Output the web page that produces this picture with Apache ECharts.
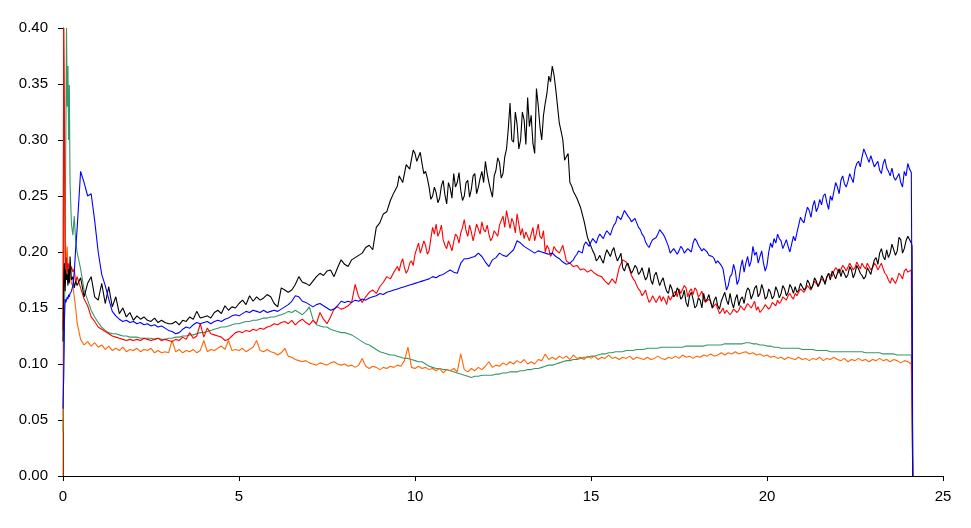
<!DOCTYPE html>
<html>
<head>
<meta charset="utf-8">
<script src="https://cdn.jsdelivr.net/npm/echarts@6/dist/echarts.min.js"></script>
<style>
  html, body { margin: 0; padding: 0; background: #ffffff; }
  #chart { width: 971px; height: 528px; }
</style>
</head>
<body>
<div id="chart"></div>
<script>
// Sample positions along x: fine steps at the start, 0.1 steps in the body, end drop
const xStart = [0, 0.02, 0.04, 0.06, 0.08, 0.10, 0.12, 0.14, 0.16, 0.18, 0.20, 0.24, 0.28, 0.32, 0.36];
const xBodyFirst = 0.4, xBodyStep = 0.1, xBodyCount = 238;
const xEnd = [24.12, 24.14];

const xTicks = [0, 5, 10, 15, 20, 25];
const yTicks = [0, 0.05, 0.10, 0.15, 0.20, 0.25, 0.30, 0.35, 0.40];

const blackValues = [
  0.12,0.17,0.19,0.165,0.185,0.175,0.18,0.17,0.185,0.172,0.196,0.175,0.178,0.168,0.174,
  0.170,0.177,0.160,0.172,0.178,0.160,
  0.157,0.172,0.154,0.169,0.151,0.160,0.145,0.150,0.142,0.146,
  0.139,0.143,0.140,0.142,0.139,0.138,0.141,0.137,0.139,0.137,
  0.136,0.136,0.138,0.135,0.139,0.138,0.142,0.140,0.147,0.141,
  0.142,0.143,0.141,0.146,0.148,0.145,0.152,0.148,0.151,0.150,
  0.154,0.157,0.153,0.161,0.156,0.160,0.157,0.159,0.162,0.160,
  0.154,0.151,0.168,0.166,0.164,0.166,0.171,0.178,0.173,0.172,
  0.170,0.174,0.178,0.181,0.179,0.183,0.184,0.178,0.186,0.193,
  0.189,0.187,0.193,0.195,0.197,0.199,0.204,0.206,0.202,0.222,
  0.226,0.234,0.236,0.246,0.253,0.259,0.267,0.270,0.277,0.283,
  0.288,0.285,0.279,0.272,0.258,0.250,0.253,0.248,0.264,0.243,
  0.257,0.270,0.262,0.255,0.250,0.264,0.256,0.270,0.258,0.272,
  0.281,0.262,0.249,0.273,0.280,0.270,0.292,0.333,0.298,0.314,
  0.300,0.318,0.338,0.322,0.288,0.331,0.300,0.333,0.357,0.366,
  0.345,0.315,0.300,0.285,0.262,0.254,0.248,0.240,0.228,0.213,
  0.205,0.198,0.194,0.193,0.197,0.199,0.201,0.197,0.195,0.186,
  0.188,0.185,0.184,0.186,0.182,0.180,0.178,0.175,0.179,0.176,
  0.174,0.170,0.163,0.167,0.162,0.165,0.160,0.155,0.161,0.158,
  0.152,0.157,0.163,0.158,0.155,0.157,0.152,0.156,0.164,0.153,
  0.155,0.158,0.152,0.160,0.163,0.166,0.162,0.170,0.163,0.166,
  0.160,0.164,0.161,0.165,0.163,0.167,0.164,0.168,0.169,0.166,
  0.171,0.168,0.172,0.170,0.174,0.172,0.176,0.178,0.175,0.180,
  0.181,0.178,0.183,0.180,0.184,0.181,0.185,0.179,0.178,0.183,
  0.187,0.195,0.199,0.196,0.202,0.199,0.206,0.201,0.211,0.203,
  0.214,0.208,
  0.205,0
];
// extra in-between readings (x = first, first+0.1, ...)
const blackDetailAFirst = 9.55;
const blackDetailAValues = [
  0.268,0.262,0.278,0.274,0.291,0.281,0.289,0.270,0.266,0.247,
  0.258,0.244,0.259,0.251,0.262,0.248,0.258,0.271,0.246,0.262,
  0.249,0.268,0.252,0.266,0.262,0.270,0.255,0.268,0.284,0.266,
  0.285,0.310,0.300,0.325,0.292,0.325,0.296,0.312,0.297,0.346,
  0.312,0.322,0.342,0.352,0.358,0.330,0.308,0.282,0.288,0.259
];
const blackDetailBFirst = 15.05;
const blackDetailBValues = [
  0.201,0.192,0.197,0.190,0.202,0.196,0.204,0.192,0.199,0.183,
  0.190,0.181,0.188,0.180,0.186,0.175,0.186,0.171,0.182,0.170,
  0.177,0.165,0.171,0.160,0.168,0.158,0.166,0.151,0.164,0.150,
  0.159,0.150,0.156,0.162,0.150,0.160,0.149,0.160,0.157,0.163,
  0.150,0.162,0.158,0.154,0.168,0.158,0.168,0.160,0.171,0.158,
  0.167,0.158,0.169,0.159,0.170,0.161,0.171,0.163,0.164,0.172,
  0.166,0.175,0.167,0.177,0.169,0.179,0.171,0.181,0.183,0.176,
  0.185,0.184,0.177,0.187,0.177,0.188,0.181,0.176,0.186,0.180,
  0.193,0.189,0.203,0.193,0.195,0.207,0.197,0.213,0.199,0.210
];

const blueValues = [
  0.06,0.09,0.14,0.158,0.155,0.157,0.160,0.158,0.162,0.160,0.163,0.165,0.170,0.182,0.203,
  0.220,0.272,0.262,0.250,0.252,0.228,
  0.200,0.180,0.170,0.158,0.147,0.143,0.140,0.138,0.139,0.137,
  0.138,0.136,0.137,0.135,0.136,0.134,0.135,0.133,0.134,0.132,
  0.130,0.129,0.127,0.128,0.131,0.133,0.132,0.135,0.137,0.136,
  0.137,0.138,0.136,0.138,0.139,0.138,0.140,0.141,0.143,0.144,
  0.143,0.145,0.147,0.146,0.148,0.147,0.146,0.148,0.146,0.147,
  0.148,0.147,0.149,0.151,0.153,0.156,0.161,0.160,0.156,0.155,
  0.153,0.151,0.153,0.154,0.152,0.150,0.148,0.149,0.152,0.156,
  0.155,0.156,0.155,0.157,0.156,0.158,0.157,0.159,0.160,0.161,
  0.163,0.162,0.164,0.165,0.166,0.167,0.168,0.169,0.170,0.171,
  0.172,0.173,0.174,0.175,0.176,0.178,0.177,0.179,0.180,0.182,
  0.184,0.182,0.181,0.190,0.194,0.194,0.195,0.196,0.199,0.196,
  0.191,0.187,0.193,0.195,0.199,0.197,0.196,0.199,0.202,0.210,
  0.208,0.205,0.203,0.201,0.199,0.201,0.200,0.199,0.198,0.199,
  0.196,0.194,0.191,0.189,0.190,0.193,0.198,0.202,0.206,0.208,
  0.209,0.210,0.213,0.215,0.216,0.218,0.220,0.226,0.231,0.233,
  0.236,0.230,0.228,0.226,0.220,0.214,0.206,0.208,0.211,0.216,
  0.219,0.213,0.205,0.200,0.203,0.201,0.203,0.200,0.204,0.208,
  0.210,0.205,0.203,0.200,0.198,0.194,0.192,0.188,0.185,0.170,
  0.180,0.183,0.175,0.193,0.190,0.187,0.205,0.200,0.196,0.190,
  0.188,0.208,0.212,0.216,0.210,0.207,0.205,0.207,0.210,0.224,
  0.228,0.234,0.237,0.241,0.236,0.247,0.250,0.244,0.250,0.254,
  0.258,0.264,0.261,0.263,0.266,0.274,0.281,0.285,0.291,0.280,
  0.281,0.276,0.273,0.279,0.275,0.268,0.267,0.264,0.262,0.272,
  0.279,0.271,
  0.137,0
];
const blueDetailAFirst = 14.55;
const blueDetailAValues = [
  0.196,0.201,0.199,0.209,0.205,0.212,0.208,0.216,0.212,0.219,
  0.215,0.224,0.232,0.229,0.237,0.232,0.227,0.230,0.222,0.216,
  0.209,0.204,0.211,0.213,0.220,0.216,0.209,0.199,0.203,0.198,
  0.205,0.199,0.203,0.200,0.212,0.206,0.201,0.204,0.197,0.196,
  0.190,0.193,0.185,0.166,0.178
];
const blueDetailBFirst = 19.05;
const blueDetailBValues = [
  0.189,0.171,0.186,0.182,0.196,0.192,0.197,0.190,0.201,0.183,
  0.200,0.204,0.208,0.212,0.203,0.211,0.200,0.214,0.217,0.231,
  0.226,0.240,0.231,0.246,0.240,0.242,0.252,0.238,0.246,0.262,
  0.252,0.268,0.258,0.270,0.262,0.279,0.276,0.292,0.284,0.286,
  0.276,0.281,0.270,0.283,0.272,0.275,0.264,0.270,0.258,0.268,
  0.274
];

const redValues = [
  0.13,0.40,0.32,0.20,0.185,0.195,0.18,0.19,0.188,0.186,0.18,0.187,0.182,0.185,0.172,
  0.178,0.168,0.158,0.152,0.142,0.138,
  0.133,0.131,0.129,0.127,0.125,0.124,0.123,0.122,0.121,0.122,
  0.121,0.122,0.121,0.123,0.122,0.121,0.122,0.123,0.121,0.122,
  0.121,0.120,0.122,0.121,0.124,0.122,0.128,0.123,0.125,0.136,
  0.124,0.132,0.127,0.126,0.125,0.124,0.121,0.122,0.125,0.128,
  0.129,0.128,0.130,0.129,0.131,0.130,0.132,0.131,0.133,0.134,
  0.136,0.135,0.137,0.138,0.136,0.139,0.135,0.138,0.140,0.137,
  0.135,0.139,0.136,0.146,0.140,0.136,0.142,0.149,0.151,0.149,
  0.150,0.152,0.155,0.171,0.160,0.155,0.160,0.164,0.166,0.163,
  0.169,0.173,0.178,0.176,0.182,0.187,0.190,0.186,0.184,0.192,
  0.198,0.208,0.204,0.206,0.201,0.222,0.225,0.218,0.211,0.203,
  0.206,0.209,0.214,0.217,0.229,0.214,0.218,0.217,0.224,0.227,
  0.218,0.216,0.213,0.220,0.224,0.232,0.237,0.221,0.226,0.234,
  0.215,0.212,0.218,0.216,0.210,0.225,0.212,0.200,0.203,0.199,
  0.202,0.199,0.206,0.192,0.190,0.187,0.188,0.184,0.185,0.182,
  0.184,0.181,0.179,0.178,0.174,0.171,0.176,0.172,0.186,0.193,
  0.191,0.184,0.176,0.170,0.165,0.163,0.160,0.157,0.160,0.158,
  0.156,0.157,0.161,0.158,0.165,0.167,0.163,0.168,0.165,0.162,
  0.166,0.162,0.158,0.154,0.156,0.151,0.149,0.147,0.145,0.148,
  0.146,0.150,0.148,0.152,0.151,0.155,0.153,0.148,0.146,0.150,
  0.152,0.151,0.154,0.157,0.156,0.159,0.161,0.160,0.163,0.164,
  0.166,0.167,0.169,0.170,0.172,0.173,0.176,0.177,0.180,0.183,
  0.184,0.182,0.186,0.184,0.187,0.186,0.188,0.190,0.185,0.187,
  0.186,0.188,0.187,0.185,0.179,0.172,0.178,0.176,0.179,0.183,
  0.182,0.184,
  0.183,0
];
const redDetailAFirst = 9.55;
const redDetailAValues = [
  0.183,0.194,0.181,0.190,0.188,0.203,0.199,0.210,0.198,0.212,
  0.216,0.214,0.224,0.206,0.210,0.201,0.216,0.208,0.222,0.219,
  0.224,0.210,0.225,0.216,0.220,0.224,0.210,0.219,0.214,0.228,
  0.222,0.229,0.230,0.217,0.225,0.221,0.218,0.210,0.222,0.217,
  0.214,0.219,0.206,0.196,0.205
];
const redDetailBFirst = 16.05;
const redDetailBValues = [
  0.188,0.179,0.174,0.167,0.161,0.166,0.155,0.161,0.155,0.161,
  0.160,0.153,0.157,0.163,0.160,0.163,0.170,0.160,0.167,0.168,
  0.160,0.165,0.155,0.158,0.150,0.154,0.145,0.150,0.148,0.144,
  0.149,0.146,0.152,0.148,0.154,0.150,0.156,0.151,0.148,0.153,
  0.149,0.155,0.152,0.154,0.160,0.157,0.163,0.158,0.161,0.167,
  0.164,0.170,0.166,0.174,0.170,0.176,0.173,0.181,0.178,0.186,
  0.181,0.188,0.183,0.190,0.184,0.191,0.185,0.187,0.190,0.184,
  0.190,0.184,0.190,0.181,0.175,0.177,0.172,0.181,0.176,0.185
];

const greenValues = [
  0.04,0.10,0.13,0.20,0.30,0.40,0.33,0.366,0.30,0.349,0.262,0.225,0.215,0.232,0.21,
  0.200,0.185,0.166,0.157,0.148,0.142,
  0.137,0.133,0.130,0.128,0.127,0.127,0.126,0.125,0.125,0.124,
  0.124,0.124,0.123,0.123,0.123,0.123,0.122,0.123,0.122,0.122,
  0.123,0.123,0.124,0.124,0.125,0.125,0.126,0.126,0.127,0.128,
  0.128,0.129,0.130,0.131,0.132,0.133,0.133,0.134,0.135,0.136,
  0.136,0.137,0.138,0.138,0.139,0.139,0.140,0.141,0.141,0.142,
  0.142,0.143,0.144,0.145,0.147,0.146,0.148,0.146,0.144,0.147,
  0.151,0.140,0.135,0.134,0.133,0.133,0.131,0.130,0.129,0.128,
  0.128,0.127,0.126,0.124,0.122,0.120,0.118,0.117,0.115,0.113,
  0.111,0.110,0.109,0.108,0.108,0.107,0.106,0.105,0.105,0.104,
  0.103,0.102,0.102,0.100,0.098,0.097,0.096,0.096,0.095,0.095,
  0.094,0.093,0.092,0.091,0.090,0.089,0.088,0.089,0.089,0.090,
  0.090,0.090,0.090,0.091,0.091,0.092,0.092,0.093,0.093,0.093,
  0.094,0.094,0.095,0.095,0.096,0.096,0.097,0.098,0.099,0.099,
  0.100,0.101,0.102,0.103,0.103,0.104,0.104,0.105,0.106,0.106,
  0.107,0.107,0.108,0.109,0.109,0.110,0.110,0.111,0.111,0.111,
  0.112,0.112,0.112,0.113,0.113,0.113,0.114,0.114,0.114,0.114,
  0.115,0.115,0.115,0.115,0.115,0.115,0.115,0.116,0.116,0.116,
  0.116,0.116,0.116,0.117,0.117,0.117,0.117,0.117,0.118,0.118,
  0.118,0.118,0.118,0.118,0.119,0.119,0.118,0.118,0.117,0.117,
  0.116,0.116,0.115,0.115,0.114,0.114,0.114,0.114,0.114,0.114,
  0.113,0.113,0.113,0.113,0.112,0.112,0.112,0.112,0.111,0.111,
  0.111,0.111,0.111,0.111,0.111,0.111,0.111,0.111,0.110,0.110,
  0.110,0.110,0.110,0.109,0.109,0.109,0.109,0.108,0.108,0.108,
  0.108,0.108,
  0.108,0
];

const orangeValues = [
  0.0,0.40,0.30,0.22,0.20,0.19,0.205,0.185,0.188,0.178,0.180,0.172,0.170,0.160,0.150,
  0.137,0.122,0.117,0.120,0.116,0.119,
  0.115,0.117,0.113,0.116,0.112,0.114,0.112,0.115,0.111,0.113,
  0.112,0.114,0.111,0.113,0.112,0.114,0.110,0.112,0.110,0.111,
  0.110,0.121,0.111,0.113,0.110,0.112,0.111,0.113,0.110,0.112,
  0.121,0.111,0.113,0.112,0.114,0.116,0.113,0.121,0.112,0.113,
  0.112,0.114,0.111,0.113,0.115,0.121,0.112,0.111,0.113,0.111,
  0.110,0.108,0.110,0.114,0.107,0.106,0.104,0.103,0.102,0.103,
  0.101,0.100,0.099,0.101,0.100,0.099,0.101,0.102,0.100,0.099,
  0.100,0.098,0.099,0.097,0.099,0.105,0.098,0.096,0.098,0.097,
  0.095,0.097,0.096,0.098,0.097,0.099,0.098,0.103,0.115,0.097,
  0.096,0.098,0.096,0.097,0.095,0.096,0.094,0.096,0.092,0.095,
  0.094,0.096,0.093,0.109,0.095,0.093,0.096,0.094,0.097,0.095,
  0.098,0.102,0.097,0.099,0.098,0.101,0.099,0.102,0.100,0.103,
  0.101,0.104,0.100,0.102,0.100,0.104,0.103,0.109,0.104,0.106,
  0.104,0.107,0.105,0.107,0.104,0.108,0.105,0.106,0.104,0.107,
  0.105,0.107,0.104,0.106,0.105,0.108,0.105,0.106,0.104,0.106,
  0.105,0.107,0.104,0.106,0.105,0.104,0.106,0.104,0.105,0.107,
  0.105,0.104,0.106,0.105,0.107,0.105,0.108,0.106,0.107,0.105,
  0.107,0.106,0.108,0.107,0.109,0.107,0.108,0.110,0.108,0.110,
  0.109,0.111,0.109,0.110,0.111,0.109,0.110,0.108,0.109,0.107,
  0.108,0.106,0.107,0.105,0.106,0.104,0.106,0.105,0.104,0.106,
  0.104,0.105,0.103,0.105,0.104,0.106,0.103,0.105,0.104,0.106,
  0.104,0.103,0.105,0.102,0.104,0.103,0.105,0.103,0.104,0.102,
  0.104,0.103,0.105,0.103,0.104,0.102,0.104,0.103,0.101,0.103,
  0.102,0.100,
  0.05,0
];

// Build the x sample positions
const xValues = xStart.slice();
for (let i = 0; i < xBodyCount; i++) {
  xValues.push(Math.round((xBodyFirst + i * xBodyStep) * 100) / 100);
}
xEnd.forEach(v => xValues.push(v));

function pairs(values, details) {
  const pts = values.map((v, i) => [xValues[i], v]);
  (details || []).forEach(d => {
    d.values.forEach((v, i) => {
      pts.push([Math.round((d.first + i * xBodyStep) * 100) / 100, v]);
    });
  });
  pts.sort((a, b) => a[0] - b[0]);
  return pts;
}

const font = '"Liberation Sans", Arial, sans-serif';
const chart = echarts.init(document.getElementById('chart'), null, { renderer: 'canvas' });

function lineSeries(name, data, color) {
  return {
    name: name,
    type: 'line',
    data: data,
    symbol: 'none',
    showSymbol: false,
    smooth: false,
    lineStyle: { width: 1.1, color: color },
    itemStyle: { color: color },
    emphasis: { disabled: true },
    silent: true
  };
}

chart.setOption({
  animation: false,
  backgroundColor: '#ffffff',
  grid: { left: 63, right: 28, top: 28, bottom: 52, containLabel: false },
  xAxis: {
    type: 'value',
    min: xTicks[0],
    max: xTicks[xTicks.length - 1],
    interval: 5,
    axisLine: { show: true, lineStyle: { color: '#000000', width: 1 } },
    axisTick: { show: true, inside: false, length: 5, lineStyle: { color: '#000000' } },
    splitLine: { show: false },
    axisLabel: { color: '#000000', fontFamily: font, fontSize: 15, margin: 13 }
  },
  yAxis: {
    type: 'value',
    min: yTicks[0],
    max: yTicks[yTicks.length - 1],
    interval: 0.05,
    axisLine: { show: true, lineStyle: { color: '#000000', width: 1 } },
    axisTick: { show: true, inside: false, length: 5, lineStyle: { color: '#000000' } },
    splitLine: { show: false },
    axisLabel: {
      color: '#000000', fontFamily: font, fontSize: 15, margin: 15,
      formatter: v => v.toFixed(2)
    }
  },
  series: [
    lineSeries('Green', pairs(greenValues), '#339966'),
    lineSeries('Orange', pairs(orangeValues), '#FF6600'),
    lineSeries('Red', pairs(redValues, [
      { first: redDetailAFirst, values: redDetailAValues },
      { first: redDetailBFirst, values: redDetailBValues }
    ]), '#FF0000'),
    lineSeries('Black', pairs(blackValues, [
      { first: blackDetailAFirst, values: blackDetailAValues },
      { first: blackDetailBFirst, values: blackDetailBValues }
    ]), '#000000'),
    lineSeries('Blue', pairs(blueValues, [
      { first: blueDetailAFirst, values: blueDetailAValues },
      { first: blueDetailBFirst, values: blueDetailBValues }
    ]), '#0000FF')
  ]
});
</script>
</body>
</html>
